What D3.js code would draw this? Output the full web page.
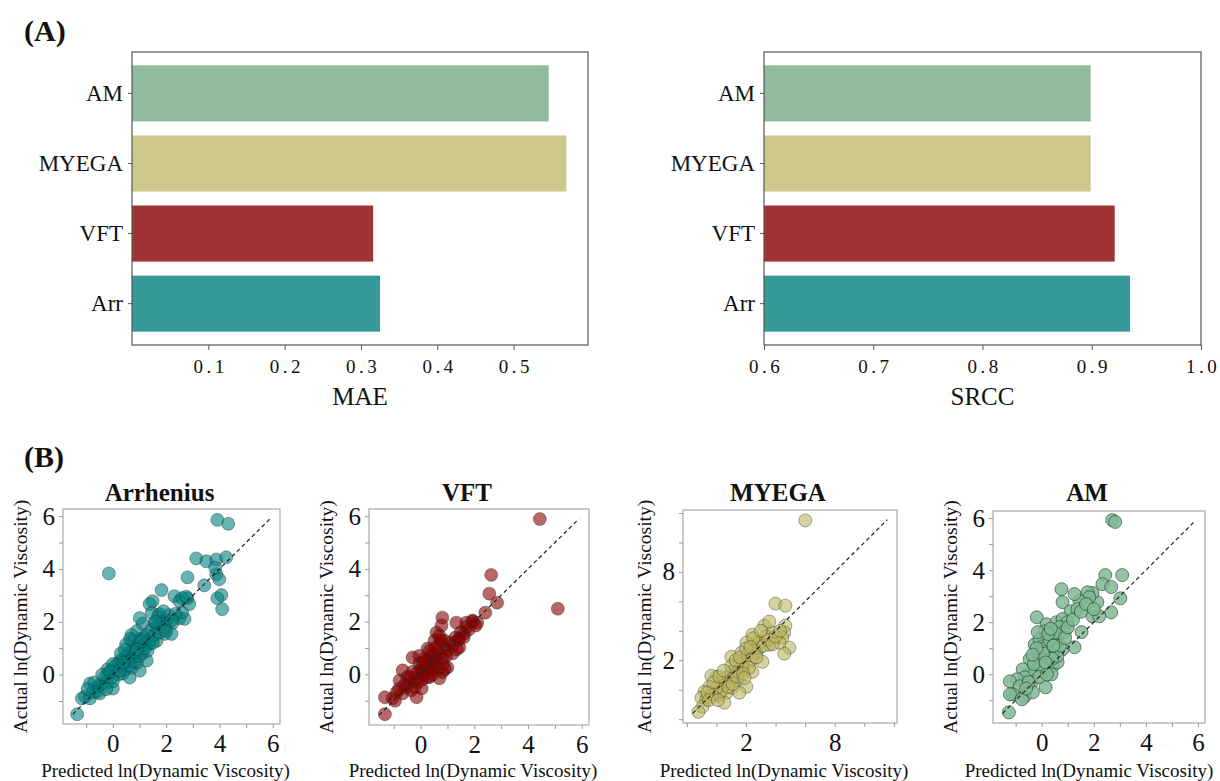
<!DOCTYPE html>
<html>
<head>
<meta charset="utf-8">
<script src="https://cdn.jsdelivr.net/npm/d3@7"></script>
<style>
  body { margin: 0; background: #fff; }
  svg text { font-family: "Liberation Serif", "Times New Roman", serif; fill: #111; }
</style>
</head>
<body>
<svg id="fig" width="1220" height="781"></svg>
<script>
// ---- data ----
const models = ["AM", "MYEGA", "VFT", "Arr"];
const barColors = ["#8fba9c", "#ccc78b", "#a13335", "#379a98"];
const maeValues = [0.546, 0.569, 0.316, 0.325];
const srccValues = [0.899, 0.899, 0.921, 0.935];
const maeTicks = [0.1, 0.2, 0.3, 0.4, 0.5];
const srccTicks = [0.6, 0.7, 0.8, 0.9, 1.0];

const panelTitles = ["Arrhenius", "VFT", "MYEGA", "AM"];
const diagRanges = [[-1.5, 5.9], [-1.55, 5.9], [-1.6, 11.55], [-1.5, 5.9]];
const minorTicks = [[-1, 0, 1, 2, 3, 4, 5, 6], [-1, 0, 1, 2, 3, 4, 5, 6], [-2, 0, 2, 4, 6, 8, 10, 12], [-1, 0, 1, 2, 3, 4, 5, 6]];
const labelTicks = [[0, 2, 4, 6], [0, 2, 4, 6], [2, 8], [0, 2, 4, 6]];

const arrPoints = [
  [3.92,5.86],[4.33,5.71],[-0.15,3.83],[3.13,4.40],[3.51,4.29],[3.88,4.36],[4.25,4.44],[3.88,3.80],[3.84,4.05],
  [2.80,3.68],[3.43,3.38],[3.99,3.61],[4.07,3.01],[3.92,2.89],[4.10,2.48],[1.83,3.20],[1.49,2.78],[1.38,2.67],
  [2.31,2.97],[2.50,2.78],[2.80,2.89],[2.87,2.67],[1.01,2.14],[1.46,2.33],[1.75,2.29],[2.01,2.03],[2.24,1.95],
  [2.50,2.14],[2.69,2.11],[1.94,1.54],[2.20,1.54],[1.57,1.95],[1.12,1.92],[1.19,1.39],[0.90,1.65],[0.71,1.28],
  [0.56,0.79],[0.82,0.64],[1.01,1.02],[1.38,1.17],[1.64,1.28],[1.27,0.53],[0.26,0.53],[0.15,0.15],[0.37,0.04],
  [0.71,0.26],[1.01,0.15],[-0.04,-0.11],[-0.22,-0.30],[-0.41,-0.34],[-0.60,-0.49],[-0.86,-0.34],[-0.75,-0.68],
  [-1.04,-0.83],[-1.16,-0.90],[-0.86,-0.90],[-0.49,-0.71],[0.00,-0.53],[-0.19,0.04],[0.07,0.26],[0.63,-0.11],
  [-1.34,-1.50],[0.1,0.35],[0.25,0.45],[0.35,0.3],[0.45,0.65],[0.55,0.5],[0.65,0.85],[0.75,0.7],[0.85,1.0],
  [0.95,1.2],[1.05,1.35],[1.15,1.1],[1.25,1.5],[1.35,1.3],[1.45,1.7],[1.55,1.5],[1.65,1.8],[1.75,1.6],[1.85,2.0],
  [1.95,1.8],[2.1,2.25],[2.35,2.3],[2.6,2.35],[0.3,0.8],[0.5,1.15],[0.7,1.5],[0.9,0.45],[1.1,0.8],[1.3,0.9],
  [0.2,0.0],[0.45,0.2],[-0.3,-0.1],[-0.5,-0.4],[-0.7,-0.3],[-0.2,0.2],[0.0,0.4],[-0.4,0.0],[-0.6,-0.65],
  [-0.95,-0.55],[0.6,0.35],[0.8,0.5],[1.0,0.7],[1.2,1.0],[0.45,0.95],[0.65,1.35],[0.85,0.85],[1.05,1.25],
  [1.5,1.2],[1.7,2.2],[2.0,1.65],[2.2,2.05],[2.6,2.9],[2.75,2.95],[0.0,-0.25],[-0.1,0.1],[0.25,0.15],[1.6,2.0],
  [1.9,2.4],[0.9,0.95],[0.4,0.45],[-0.25,-0.55]
];
const vftPoints = [
  [4.44,5.89],[5.11,2.49],[2.63,3.77],[2.56,3.06],[2.85,2.72],[2.41,2.34],[1.93,2.04],[2.11,1.96],[1.70,1.96],
  [1.33,1.96],[0.81,2.15],[0.78,1.85],[0.59,1.58],[0.89,1.28],[1.44,1.36],[1.63,1.55],[1.19,0.79],[1.44,1.02],
  [1.00,0.26],[0.81,0.08],[0.44,0.79],[0.22,0.53],[-0.04,0.42],[-0.30,0.64],[0.59,0.53],[0.41,0.15],[0.07,0.15],
  [-0.15,0.04],[-0.41,-0.11],[-0.67,0.15],[-0.78,-0.23],[-0.52,-0.49],[-0.22,-0.49],[0.04,-0.53],[-0.15,-0.87],
  [-0.67,-0.72],[-0.89,-0.68],[-1.04,-0.91],[-1.33,-0.87],[-1.33,-1.51],[0.26,0.98],[0.70,1.17],[0.52,1.28],
  [0.70,1.47],[0.33,-0.11],[0.70,-0.15],[0.0,0.2],[0.1,0.0],[0.2,0.3],[0.3,0.5],[0.4,0.3],[0.5,0.7],[0.6,0.4],
  [0.7,0.8],[0.8,0.6],[0.9,1.0],[1.0,0.9],[1.1,1.2],[1.2,1.1],[1.3,1.4],[1.4,1.3],[1.5,1.6],[1.6,1.4],[1.7,1.8],
  [1.8,1.7],[1.95,2.0],[2.05,1.85],[-0.2,-0.2],[-0.4,-0.3],[-0.5,-0.1],[-0.6,-0.4],[-0.3,0.1],[-0.1,-0.3],
  [0.15,0.6],[0.35,0.9],[0.55,1.0],[0.75,1.3],[0.65,0.2],[0.85,0.4],[0.95,0.7],[-0.8,-0.55],[-0.95,-1.0],
  [0.25,-0.1],[0.45,0.0],[-0.05,0.7],[0.1,0.45],[0.3,0.2],[1.35,0.95],[0.05,-0.2],[-0.35,-0.6],[0.9,0.2]
];
const myegaPoints = [
  [6.01,11.50],[3.99,5.85],[4.66,5.71],[3.24,4.35],[4.66,4.35],[4.59,3.88],[4.46,3.54],[4.93,2.86],[4.59,2.45],
  [3.78,3.88],[4.26,3.20],[3.58,3.06],[2.77,3.33],[2.43,3.74],[2.03,3.20],[1.69,2.52],[1.01,2.24],[2.70,2.52],
  [3.11,1.90],[2.23,1.90],[2.43,1.22],[1.76,1.36],[1.35,1.56],[1.01,1.22],[1.42,0.68],[2.03,0.20],[0.74,0.82],
  [0.41,0.48],[0.00,0.88],[-0.34,0.95],[0.07,0.20],[-0.47,0.20],[-0.81,-0.14],[-1.01,-0.54],[-0.68,-0.68],
  [-0.27,-0.48],[0.20,-0.34],[0.68,-0.20],[1.08,0.14],[1.55,-0.20],[-0.95,-1.16],[-1.22,-1.50],[0.54,-0.88],
  [3.58,4.63],[1.69,1.56],[2.91,2.86],[3.38,3.61],[0.5,0.3],[0.9,0.6],[1.2,1.0],[1.5,1.2],[1.8,1.8],[2.1,2.4],
  [2.4,2.1],[2.6,2.8],[2.9,3.2],[3.2,3.0],[3.5,3.4],[3.8,3.1],[4.0,3.6],[4.3,4.0],[1.0,1.6],[1.3,2.0],[1.6,2.2],
  [2.0,2.8],[2.2,1.5],[0.3,-0.1],[0.0,0.1],[-0.3,-0.3],[-0.6,-0.2],[0.8,0.2],[1.1,0.4],[1.4,0.9],[2.5,3.5],
  [3.0,4.0],[2.7,2.2],[-0.2,0.5],[0.2,0.9],[0.5,1.3],[-0.5,-0.7],[0.1,-0.7],[1.8,1.1],[2.3,2.9],[1.9,0.8]
];
const amPoints = [
  [2.71,5.92],[2.82,5.85],[2.44,3.81],[3.09,3.81],[2.33,3.46],[2.67,3.35],[3.02,2.92],[2.67,2.38],[2.14,2.77],
  [1.95,3.12],[1.76,3.15],[1.83,2.96],[1.45,2.81],[1.26,3.08],[0.76,3.27],[0.80,2.77],[1.11,2.42],[1.37,2.50],
  [1.95,2.23],[2.21,2.23],[1.53,1.62],[1.26,1.04],[-0.19,2.19],[0.19,1.92],[0.11,1.65],[0.57,2.00],[0.80,2.12],
  [0.99,2.00],[0.69,1.81],[0.88,1.62],[0.42,1.46],[0.61,1.27],[-0.27,1.15],[-0.08,1.35],[0.04,1.08],[0.31,0.96],
  [0.57,0.85],[0.80,0.96],[-0.15,0.85],[-0.46,0.58],[0.00,0.50],[0.31,0.58],[0.42,0.31],[0.11,0.19],[-0.19,0.19],
  [-0.46,0.08],[-0.73,0.19],[-0.65,-0.12],[-0.95,-0.19],[-1.22,-0.27],[-0.38,-0.31],[-0.84,-0.46],[-1.11,-0.77],
  [-1.22,-0.77],[-0.65,-0.85],[-0.76,-0.96],[-0.34,-0.69],[0.15,-0.50],[-1.26,-1.46],[0.38,0.00],[0.61,0.46],
  [-0.15,1.62],[0.0,0.3],[0.2,0.7],[0.1,1.0],[0.3,1.3],[0.5,1.6],[0.6,0.7],[0.7,1.1],[-0.1,-0.1],[-0.3,0.4],
  [-0.5,-0.3],[0.2,0.0],[0.4,0.6],[0.9,1.4],[1.0,1.8],[0.05,0.8],[-0.2,1.0],[0.25,1.55],[1.2,2.1],[1.5,2.4],
  [1.7,2.7],[2.0,2.5],[-0.35,0.75],[0.45,1.1],[-0.6,-0.55],[0.15,0.45],[0.35,1.75]
];
const scatterSets = [arrPoints, vftPoints, myegaPoints, amPoints];
const pointColors = ["#008080", "#8b0000", "#bcb55f", "#7fb893"];
const pointOpacity = [0.6, 0.6, 0.6, 0.85];

// ---- layout ----
const svg = d3.select("#fig");
const barBoxes = [
  { left: 132, right: 588, top: 52, bottom: 345 },
  { left: 764, right: 1201, top: 52, bottom: 345 }
];
const scatterBoxes = [
  { left: 63, top: 509, w: 217, h: 215 },
  { left: 369, top: 509, w: 220, h: 216 },
  { left: 683, top: 510, w: 214, h: 213 },
  { left: 993, top: 511, w: 212, h: 212 }
];

svg.append("text").attr("x", 24).attr("y", 41).attr("font-size", 30).attr("font-weight", "bold").text("(A)");
svg.append("text").attr("x", 24).attr("y", 467).attr("font-size", 30).attr("font-weight", "bold").text("(B)");

function barPanel(box, values, domain, ticks, label) {
  const x = d3.scaleLinear().domain(domain).range([box.left, box.right]);
  const y = d3.scaleBand().domain(models).range([box.top, box.bottom])
    .paddingInner(0.2).paddingOuter(0.19);
  const g = svg.append("g");

  g.selectAll("rect.bar")
    .data(models)
    .join("rect")
    .attr("class", "bar")
    .attr("x", x(domain[0]))
    .attr("y", d => y(d))
    .attr("width", (d, i) => x(values[i]) - x(domain[0]))
    .attr("height", y.bandwidth())
    .attr("fill", (d, i) => barColors[i]);

  g.append("rect")
    .attr("x", box.left).attr("y", box.top)
    .attr("width", box.right - box.left).attr("height", box.bottom - box.top)
    .attr("fill", "none").attr("stroke", "#555").attr("stroke-width", 1.2);

  const xa = g.append("g")
    .attr("transform", `translate(0,${box.bottom})`)
    .call(d3.axisBottom(x).tickValues(ticks).tickFormat(d3.format(".1f")).tickSize(5).tickPadding(10));
  xa.select(".domain").remove();
  xa.selectAll("line").attr("stroke", "#555");
  xa.selectAll("text").attr("font-size", 19).attr("letter-spacing", "3.5px")
    .attr("dx", "1.7px");

  const ya = g.append("g")
    .attr("transform", `translate(${box.left},0)`)
    .call(d3.axisLeft(y).tickSize(4).tickPadding(5));
  ya.select(".domain").remove();
  ya.selectAll("line").attr("stroke", "#555");
  ya.selectAll("text").attr("font-size", 23);

  g.append("text")
    .attr("x", (box.left + box.right) / 2)
    .attr("y", 405)
    .attr("text-anchor", "middle")
    .attr("font-size", 25)
    .text(label);
}

barPanel(barBoxes[0], maeValues, [0, d3.max(maeValues) * 1.05], maeTicks, "MAE");
barPanel(barBoxes[1], srccValues, [0.6, 1.0], srccTicks, "SRCC");

function scatterPanel(k) {
  const box = scatterBoxes[k];
  const [lo, hi] = diagRanges[k];
  const pad = (hi - lo) * 0.05;
  const x = d3.scaleLinear().domain([lo - pad, hi + pad]).range([box.left, box.left + box.w]);
  const y = d3.scaleLinear().domain([lo - pad, hi + pad]).range([box.top + box.h, box.top]);
  const g = svg.append("g");

  g.append("rect")
    .attr("x", box.left).attr("y", box.top).attr("width", box.w).attr("height", box.h)
    .attr("fill", "none").attr("stroke", "#aaa").attr("stroke-width", 1.2);

  const fmt = d => labelTicks[k].includes(d) ? d : "";
  const xa = g.append("g")
    .attr("transform", `translate(0,${box.top + box.h})`)
    .call(d3.axisBottom(x).tickValues(minorTicks[k]).tickFormat(fmt).tickSize(4).tickPadding(6));
  const ya = g.append("g")
    .attr("transform", `translate(${box.left},0)`)
    .call(d3.axisLeft(y).tickValues(minorTicks[k]).tickFormat(fmt).tickSize(4).tickPadding(4));
  [xa, ya].forEach(a => {
    a.select(".domain").remove();
    a.selectAll("line").attr("stroke", "#999");
    a.selectAll("text").attr("font-size", 25);
  });

  g.selectAll("circle")
    .data(scatterSets[k])
    .join("circle")
    .attr("cx", d => x(d[0]))
    .attr("cy", d => y(d[1]))
    .attr("r", 6.5)
    .attr("fill", pointColors[k])
    .attr("fill-opacity", pointOpacity[k])
    .attr("stroke", "#1a2a22")
    .attr("stroke-opacity", pointOpacity[k] * 0.8)
    .attr("stroke-width", 0.8);

  g.append("line")
    .attr("x1", x(lo)).attr("y1", y(lo))
    .attr("x2", x(hi)).attr("y2", y(hi))
    .attr("stroke", "#222").attr("stroke-width", 1.2).attr("stroke-dasharray", "4,3");

  const cx = box.left + box.w / 2;
  g.append("text")
    .attr("x", cx - 12).attr("y", 501)
    .attr("text-anchor", "middle").attr("font-size", 25).attr("font-weight", "bold")
    .text(panelTitles[k]);
  g.append("text")
    .attr("x", k === 3 ? cx - 10 : cx - 6).attr("y", 777)
    .attr("text-anchor", "middle").attr("font-size", 19)
    .text("Predicted ln(Dynamic Viscosity)");
  g.append("text")
    .attr("transform", `translate(${box.left - (k === 2 ? 32 : 36)},${box.top + box.h / 2}) rotate(-90)`)
    .attr("text-anchor", "middle").attr("font-size", 19.5)
    .text("Actual ln(Dynamic Viscosity)");
}

for (let k = 0; k < 4; k++) scatterPanel(k);
</script>
</body>
</html>
